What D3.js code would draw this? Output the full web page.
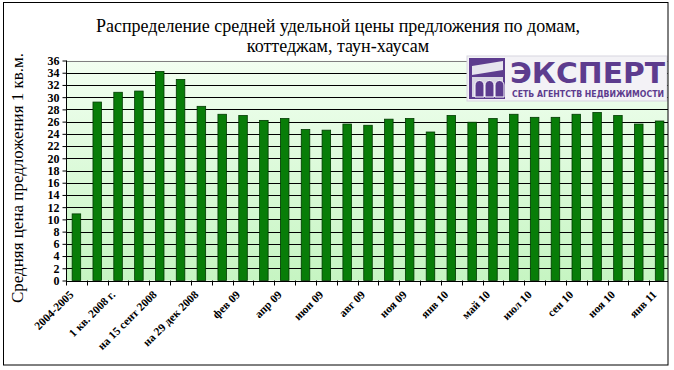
<!DOCTYPE html>
<html><head><meta charset="utf-8">
<script src="https://cdn.jsdelivr.net/npm/d3@7"></script>
<style>html,body{margin:0;padding:0;background:#fff;}</style>
</head><body>
<svg id="chart" width="674" height="370"></svg>
<script>
const categories = ["2004-2005","2007","1 кв. 2008 г.","2 кв. 2008 г.","на 15 сент 2008","на 15 нояб 2008","на 29 дек 2008","янв 09","фев 09","мар 09","апр 09","май 09","июн 09","июл 09","авг 09","окт 09","ноя 09","дек 09","янв 10","мар 10","май 10","июн 10","июл 10","авг 10","сен 10","окт 10","ноя 10","дек 10","янв 11"];
const values = [10.9,29.2,30.8,31.0,34.2,32.9,28.5,27.2,27.0,26.2,26.5,24.7,24.6,25.6,25.4,26.4,26.5,24.3,27.0,25.9,26.5,27.2,26.7,26.7,27.2,27.5,27.0,25.6,26.1];
const shownLabels = ["2004-2005","1 кв. 2008 г.","на 15 сент 2008","на 29 дек 2008","фев 09","апр 09","июн 09","авг 09","ноя 09","янв 10","май 10","июл 10","сен 10","ноя 10","янв 11"];
const yTicks = d3.range(0, 37, 2);
const titleLines = ["Распределение средней удельной цены предложения по домам,","коттеджам, таун-хаусам"];
const yTitle = "Средняя цена предложения 1 кв.м.";

const svg = d3.select("#chart");
const L = 66, R = 670, T = 60.5, B = 280.5;
const serif = "'Liberation Serif','Times New Roman',Times,serif";

const defs = svg.append("defs");
const grad = defs.append("linearGradient").attr("id","bg").attr("x1",0).attr("y1",0).attr("x2",0).attr("y2",1);
grad.append("stop").attr("offset","0%").attr("stop-color","#f2fff1");
grad.append("stop").attr("offset","100%").attr("stop-color","#c6f5c2");
defs.append("clipPath").attr("id","clip").append("rect").attr("x",3).attr("y",2).attr("width",665).attr("height",363);

const root = svg.append("g").attr("clip-path","url(#clip)");

const x = d3.scaleBand().domain(categories).range([L, R]).paddingInner(0.59).paddingOuter(0.295);
const y = d3.scaleLinear().domain([0, 36]).range([B, T]);

root.append("rect").attr("x",L).attr("y",T).attr("width",R-L).attr("height",B-T).attr("fill","url(#bg)");

// gridlines
root.append("g").selectAll("line").data(yTicks.filter(d=>d>0 && d<36)).join("line")
  .attr("x1",L).attr("x2",R).attr("y1",d=>Math.round(y(d))+0.5).attr("y2",d=>Math.round(y(d))+0.5)
  .attr("stroke","#000").attr("stroke-width",1);
root.append("line").attr("x1",L).attr("x2",R).attr("y1",Math.round(T)+0.5).attr("y2",Math.round(T)+0.5).attr("stroke","#808080");

// bars
root.append("g").selectAll("rect").data(values).join("rect")
  .attr("x",(d,i)=>x(categories[i])).attr("width",x.bandwidth())
  .attr("y",d=>y(d)).attr("height",d=>y(0)-y(d))
  .attr("fill","#087d08").attr("stroke","#013a01").attr("stroke-width",0.8);

// x axis ticks at category boundaries
const step = x.step();
const bounds = d3.range(categories.length+1).map(i => x(categories[0]) - step*0.295 + i*step);
root.append("line").attr("x1",L).attr("x2",R).attr("y1",Math.round(B)+0.5).attr("y2",Math.round(B)+0.5).attr("stroke","#000");
root.append("g").selectAll("line").data(bounds).join("line")
  .attr("x1",d=>Math.round(d)+0.5).attr("x2",d=>Math.round(d)+0.5).attr("y1",B).attr("y2",B+5).attr("stroke","#000");

// x labels
root.append("g").selectAll("text").data(categories).join("text")
  .filter(d=>shownLabels.includes(d))
  .attr("transform",d=>`translate(${x(d)+x.bandwidth()/2-5},${B+12}) rotate(-45)`)
  .attr("text-anchor","end").attr("dy","0.35em")
  .attr("font-family",serif).attr("font-weight","bold").attr("font-size",11.5)
  .text(d=>d);

// y axis
const yAxis = d3.axisLeft(y).tickValues(yTicks).tickSize(4).tickPadding(3);
const ya = root.append("g").attr("transform",`translate(${L+0.5},0)`).call(yAxis);
ya.select(".domain").attr("stroke","#000").attr("d",`M0,${T}V${B+0.5}`);
ya.selectAll(".tick line").attr("stroke","#000");
ya.selectAll(".tick text").attr("font-family",serif).attr("font-weight","bold").attr("font-size",12).attr("fill","#000");

// title
root.append("g").selectAll("text").data(titleLines).join("text")
  .attr("x",338).attr("y",(d,i)=>32+i*20).attr("text-anchor","middle")
  .attr("font-family",serif).attr("font-size",18)
  .text(d=>d);

// y title
root.append("text").attr("transform","translate(23,178) rotate(-90)").attr("text-anchor","middle")
  .attr("font-family",serif).attr("font-size",17)
  .text(yTitle);

// logo
const purple = "#5d3c8e";
const lg = svg.append("g");
lg.append("rect").attr("x",467).attr("y",56).attr("width",200).attr("height",45).attr("fill","#f3f2f6").attr("stroke","#d8d6e0");
lg.append("rect").attr("x",469).attr("y",58).attr("width",36).attr("height",41).attr("fill",purple);
lg.append("path").attr("d","M472,66 L503,61 L503,70 L472,75 Z").attr("fill","#e6e4ee");
lg.append("rect").attr("x",472).attr("y",77).attr("width",31).attr("height",20).attr("fill","#d9d6e4");
[475,485,495].forEach(cx=>{
  lg.append("path").attr("d",`M${cx},97 V85 a4.5,4.5 0 0 1 9,0 V97 Z`).attr("fill",purple).attr("stroke","#fff").attr("stroke-width",1);
});
lg.append("text").attr("x",510).attr("y",83).attr("textLength",155).attr("lengthAdjust","spacingAndGlyphs")
  .attr("font-family","'DejaVu Sans',sans-serif").attr("font-weight","bold").attr("font-size",28).attr("fill",purple).text("ЭКСПЕРТ");
lg.append("text").attr("x",512).attr("y",97).attr("textLength",152).attr("lengthAdjust","spacingAndGlyphs")
  .attr("font-family","'DejaVu Sans',sans-serif").attr("font-weight","bold").attr("font-size",8).attr("fill",purple).text("СЕТЬ АГЕНТСТВ НЕДВИЖИМОСТИ");

// border
svg.append("rect").attr("x",3.5).attr("y",2.5).attr("width",664.5).attr("height",362.5).attr("fill","none").attr("stroke","#000");
</script>
</body></html>
